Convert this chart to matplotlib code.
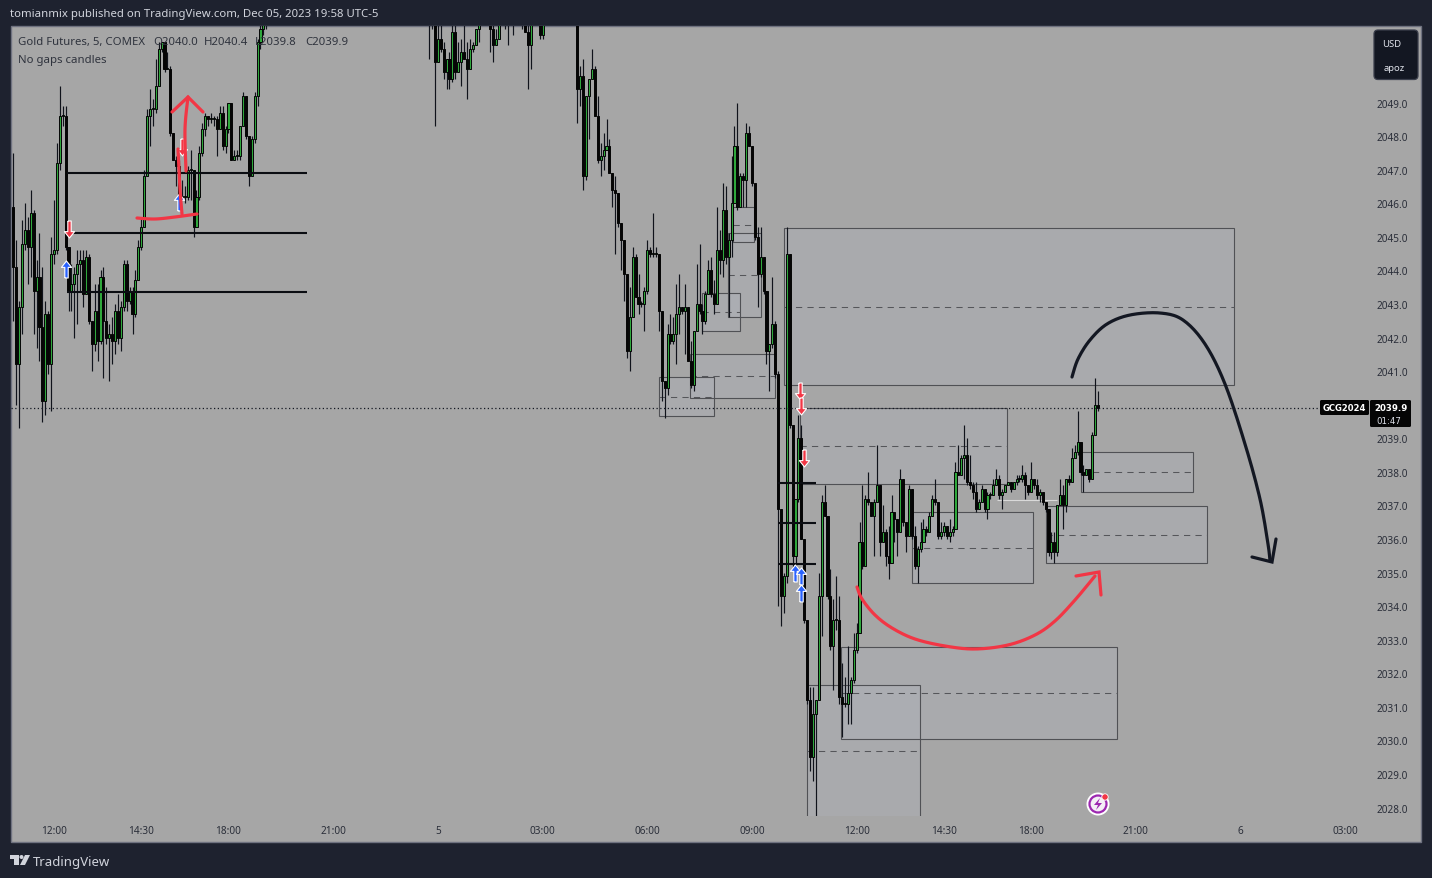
import numpy as np
import matplotlib
matplotlib.use('Agg')
import matplotlib.pyplot as plt
from matplotlib.patches import Rectangle, FancyBboxPatch, Circle, Polygon
from matplotlib.path import Path
from matplotlib.markers import MarkerStyle

plt.rcParams['font.family'] = ['Noto Sans', 'DejaVu Sans']

# Gold futures 5 min, bar 0 is 12:00 on Dec 4. Candles have no gaps, open = previous close
left_start = -14
left_open = 2045.9
left_close = [
    2044.1, 2041.2, 2042.9, 2044.8, 2045.2, 2044.7, 2045.7, 2043.4, 2043.8, 2042.3,
    2040.1, 2042.7, 2041.2, 2044.5, 2044.6, 2047.2, 2048.6, 2048.6, 2044.7, 2043.4,
    2043.6, 2043.9, 2044.2, 2044.3, 2043.3, 2044.4, 2042.5, 2041.8, 2042.8, 2041.9,
    2043.8, 2042.5, 2042.0, 2042.1, 2041.9, 2042.8, 2042.0, 2042.9, 2044.2, 2043.1,
    2043.4, 2042.7, 2043.7, 2044.7, 2045.3, 2046.8, 2048.6, 2048.8, 2048.8, 2049.5,
    2050.6, 2050.8, 2050.0, 2050.0, 2048.1, 2047.3, 2047.1, 2046.2, 2046.2, 2046.2,
    2047.0, 2047.0, 2045.3, 2046.2, 2047.5, 2048.2, 2048.6, 2048.5, 2048.5, 2048.5,
    2048.2, 2048.7, 2047.7, 2048.2, 2049.0, 2047.3, 2047.4, 2047.4, 2048.3, 2049.2,
    2048.0, 2046.8, 2047.9, 2049.2, 2050.8, 2051.2, 2051.5, 2052.0]
left_high = [
    2047.5, 2044.9, 2043.1, 2045.5, 2046.0, 2045.6, 2046.4, 2045.8, 2044.3, 2045.1,
    2044.1, 2043.1, 2042.8, 2045.0, 2046.1, 2047.8, 2049.5, 2048.9, 2048.9, 2044.7,
    2044.2, 2044.1, 2044.6, 2044.6, 2044.6, 2044.6, 2044.5, 2042.5, 2043.6, 2043.6,
    2044.0, 2044.1, 2043.5, 2042.4, 2042.6, 2043.0, 2043.3, 2043.1, 2044.3, 2044.3,
    2043.5, 2043.5, 2044.0, 2044.9, 2045.6, 2047.0, 2048.8, 2049.4, 2049.1, 2050.3,
    2050.8, 2050.8, 2050.8, 2050.5, 2050.1, 2048.1, 2047.4, 2047.3, 2046.7, 2046.5,
    2047.1, 2047.6, 2047.0, 2046.4, 2047.7, 2048.4, 2048.7, 2048.6, 2048.7, 2048.6,
    2048.6, 2048.9, 2048.9, 2048.3, 2049.0, 2049.0, 2047.6, 2047.6, 2048.3, 2049.3,
    2049.2, 2048.0, 2048.0, 2049.3, 2050.9, 2051.4, 2052.0, 2052.5]
left_low = [
    2042.5, 2040.0, 2039.3, 2042.1, 2044.6, 2043.6, 2043.8, 2042.1, 2041.7, 2041.3,
    2039.5, 2039.7, 2040.9, 2039.8, 2044.2, 2044.5, 2047.0, 2048.3, 2044.6, 2042.8,
    2042.8, 2042.0, 2042.4, 2043.4, 2042.9, 2043.3, 2042.4, 2041.0, 2041.6, 2041.3,
    2041.8, 2040.8, 2041.8, 2040.7, 2041.2, 2041.5, 2041.8, 2041.6, 2042.8, 2042.8,
    2043.0, 2042.1, 2042.6, 2043.7, 2044.6, 2045.3, 2046.8, 2047.7, 2048.3, 2048.7,
    2049.5, 2050.5, 2049.9, 2050.0, 2048.0, 2047.3, 2046.5, 2046.2, 2046.1, 2046.0,
    2046.1, 2046.1, 2045.0, 2045.3, 2046.1, 2047.4, 2048.0, 2048.3, 2048.4, 2048.3,
    2047.4, 2048.2, 2047.6, 2047.5, 2048.1, 2047.3, 2047.3, 2047.3, 2047.3, 2048.3,
    2047.9, 2046.5, 2046.8, 2047.8, 2048.9, 2050.6, 2051.0, 2051.2]

# early hours of Dec 5, mostly above the top of the chart
top_start = 129
top_open = 2052.0
top_close = [
    2052.0, 2052.2, 2050.2, 2050.9, 2050.6, 2049.9, 2050.3, 2049.7, 2051.1, 2049.9,
    2050.2, 2050.5, 2050.3, 2050.0, 2050.6, 2050.7, 2051.2, 2052.0, 2052.0, 2052.2,
    2052.0, 2051.2, 2050.7, 2050.9, 2052.0, 2052.1, 2052.0, 2052.2, 2052.0, 2052.1,
    2052.0, 2052.2, 2052.0, 2051.1, 2050.7, 2052.0, 2052.1, 2052.0, 2051.0, 2052.0]
top_high = [
    2053.0, 2053.0, 2053.0, 2052.0, 2052.0, 2050.8, 2050.3, 2050.5, 2051.3, 2051.3,
    2050.8, 2050.9, 2051.3, 2050.8, 2050.9, 2050.8, 2051.2, 2052.5, 2052.5, 2052.6,
    2052.5, 2052.5, 2052.0, 2051.2, 2052.5, 2052.6, 2052.5, 2052.6, 2052.5, 2052.6,
    2052.5, 2052.6, 2052.6, 2052.0, 2051.3, 2052.5, 2052.6, 2052.5, 2052.2, 2052.5]
top_low = [
    2050.3, 2051.2, 2048.3, 2050.2, 2050.5, 2049.7, 2049.4, 2049.4, 2049.6, 2049.7,
    2049.9, 2049.5, 2050.3, 2049.1, 2050.0, 2050.5, 2050.7, 2050.8, 2051.6, 2051.7,
    2051.6, 2050.5, 2050.2, 2050.7, 2050.9, 2051.6, 2051.2, 2050.7, 2051.6, 2051.0,
    2051.6, 2051.6, 2051.2, 2051.1, 2049.4, 2050.0, 2051.6, 2051.5, 2050.9, 2050.9]

# morning session of Dec 5 up to the last bar
main_start = 180
main_open = 2052.0
main_close = [
    2049.4, 2049.8, 2046.8, 2049.2, 2049.7, 2050.0, 2048.6, 2047.3, 2047.4, 2047.6,
    2047.7, 2046.9, 2046.4, 2046.3, 2045.4, 2044.9, 2043.9, 2041.6, 2042.6, 2044.4,
    2043.2, 2043.0, 2043.0, 2043.4, 2044.6, 2044.5, 2044.5, 2044.5, 2042.8, 2040.7,
    2040.5, 2042.1, 2041.9, 2042.1, 2042.7, 2042.9, 2042.8, 2042.9, 2041.3, 2040.6,
    2042.2, 2043.0, 2042.8, 2042.5, 2043.3, 2044.0, 2043.3, 2043.0, 2044.6, 2044.3,
    2045.8, 2044.4, 2044.9, 2046.0, 2047.7, 2045.9, 2046.8, 2046.7, 2048.1, 2047.7,
    2046.6, 2045.0, 2043.9, 2044.4, 2043.4, 2041.6, 2041.8, 2042.4, 2040.9, 2036.9,
    2034.3, 2034.9, 2044.5, 2039.4, 2035.5, 2037.2, 2039.0, 2036.0, 2033.6, 2031.2,
    2029.5, 2030.8, 2031.2, 2034.3, 2037.1, 2036.7, 2034.3, 2032.8, 2033.6, 2033.6,
    2031.3, 2031.1, 2031.1, 2031.4, 2031.8, 2032.7, 2033.2, 2035.9, 2035.2, 2037.2,
    2037.1, 2036.7, 2037.1, 2037.6, 2035.9, 2036.2, 2035.5, 2035.3, 2036.8, 2036.6,
    2036.2, 2037.8, 2036.5, 2036.1, 2037.5, 2036.1, 2035.2, 2035.7, 2035.9, 2036.3,
    2036.2, 2036.7, 2037.2, 2037.1, 2036.1, 2036.2, 2036.4, 2036.1, 2036.2, 2036.3,
    2038.0, 2037.9, 2038.4, 2038.5, 2037.7, 2037.6, 2037.4, 2036.9, 2037.1, 2037.5,
    2036.9, 2037.3, 2037.3, 2037.6, 2037.8, 2037.3, 2037.4, 2037.6, 2037.7, 2037.5,
    2037.7, 2037.8, 2037.8, 2037.9, 2037.6, 2037.4, 2037.8, 2037.6, 2037.3, 2037.4,
    2037.1, 2036.9, 2035.6, 2035.9, 2035.6, 2037.0, 2037.3, 2037.0, 2037.8, 2037.7,
    2038.4, 2038.6, 2038.9, 2038.0, 2037.9, 2038.1, 2037.8, 2039.1, 2040.0, 2039.9]
main_high = [
    2052.5, 2050.1, 2050.3, 2049.2, 2049.7, 2050.6, 2050.1, 2049.2, 2047.8, 2048.1,
    2048.5, 2047.9, 2046.9, 2046.8, 2046.3, 2045.4, 2044.9, 2043.9, 2043.5, 2044.7,
    2044.5, 2043.9, 2043.1, 2043.5, 2044.9, 2044.7, 2045.7, 2044.7, 2044.3, 2042.8,
    2040.7, 2042.4, 2042.7, 2042.6, 2043.6, 2043.9, 2042.9, 2043.6, 2042.9, 2041.9,
    2042.2, 2044.2, 2044.8, 2043.0, 2043.4, 2044.3, 2044.4, 2043.7, 2045.9, 2045.2,
    2046.6, 2046.5, 2045.1, 2047.4, 2048.3, 2049.0, 2046.9, 2046.9, 2048.4, 2048.3,
    2047.7, 2046.6, 2045.3, 2045.3, 2044.4, 2043.4, 2041.8, 2043.8, 2042.5, 2041.0,
    2036.9, 2035.0, 2045.3, 2044.5, 2039.4, 2037.2, 2039.7, 2039.4, 2036.0, 2033.6,
    2031.6, 2031.6, 2031.2, 2035.0, 2037.3, 2037.6, 2036.7, 2035.1, 2034.2, 2034.9,
    2034.3, 2032.3, 2031.9, 2032.8, 2031.9, 2033.2, 2033.5, 2036.5, 2037.6, 2037.3,
    2038.0, 2037.1, 2037.2, 2038.8, 2037.6, 2037.0, 2036.3, 2036.4, 2037.3, 2036.8,
    2036.6, 2038.1, 2037.8, 2036.5, 2037.6, 2037.5, 2036.4, 2035.8, 2036.5, 2036.6,
    2036.4, 2036.8, 2037.3, 2037.8, 2037.1, 2036.5, 2036.5, 2036.4, 2036.6, 2036.4,
    2038.3, 2038.8, 2038.5, 2039.4, 2039.0, 2038.5, 2037.7, 2037.7, 2037.2, 2037.6,
    2037.5, 2037.4, 2037.4, 2037.8, 2038.1, 2037.9, 2037.5, 2037.6, 2037.7, 2037.7,
    2037.7, 2037.9, 2037.9, 2038.2, 2038.0, 2037.6, 2038.3, 2037.8, 2037.8, 2037.5,
    2037.4, 2037.1, 2036.9, 2036.2, 2036.2, 2037.0, 2037.8, 2037.6, 2037.8, 2037.9,
    2038.7, 2038.8, 2039.8, 2038.9, 2038.2, 2038.1, 2038.1, 2039.2, 2040.8, 2040.4]
main_low = [
    2048.4, 2048.9, 2046.4, 2046.7, 2047.9, 2049.7, 2048.6, 2047.2, 2046.8, 2047.0,
    2047.6, 2046.9, 2045.9, 2044.5, 2045.3, 2044.0, 2043.1, 2041.4, 2041.0, 2042.6,
    2043.2, 2042.7, 2042.9, 2042.2, 2043.3, 2044.4, 2044.4, 2044.4, 2042.2, 2040.1,
    2039.6, 2040.3, 2041.8, 2041.8, 2041.2, 2042.1, 2042.7, 2041.5, 2041.3, 2040.5,
    2040.4, 2042.2, 2042.7, 2042.1, 2042.4, 2043.3, 2043.2, 2042.7, 2043.0, 2043.9,
    2043.8, 2044.2, 2042.6, 2044.4, 2046.0, 2045.8, 2045.9, 2045.9, 2045.9, 2047.7,
    2046.5, 2044.9, 2042.9, 2043.8, 2043.3, 2041.2, 2040.4, 2041.7, 2040.8, 2034.0,
    2033.4, 2033.8, 2034.7, 2039.3, 2035.1, 2035.1, 2037.1, 2036.0, 2033.5, 2031.1,
    2029.1, 2028.8, 2027.7, 2031.2, 2033.1, 2036.7, 2034.2, 2032.7, 2031.5, 2033.3,
    2031.1, 2030.1, 2031.0, 2030.5, 2030.5, 2031.7, 2032.6, 2033.2, 2035.1, 2035.2,
    2037.0, 2036.7, 2035.5, 2037.1, 2035.5, 2035.9, 2035.2, 2034.8, 2035.3, 2035.9,
    2035.5, 2036.2, 2036.4, 2035.6, 2036.1, 2036.0, 2035.1, 2034.7, 2035.6, 2035.9,
    2036.1, 2036.2, 2036.7, 2037.0, 2036.0, 2036.0, 2036.1, 2036.0, 2035.9, 2036.1,
    2036.3, 2037.9, 2037.9, 2037.8, 2037.6, 2037.5, 2037.2, 2036.8, 2036.9, 2037.1,
    2036.8, 2036.6, 2037.2, 2037.3, 2037.6, 2037.2, 2036.9, 2037.4, 2037.6, 2037.4,
    2037.5, 2037.6, 2037.7, 2037.7, 2037.2, 2037.3, 2037.4, 2037.5, 2037.2, 2037.1,
    2037.0, 2036.8, 2035.5, 2035.4, 2035.3, 2035.5, 2037.0, 2036.3, 2036.8, 2037.6,
    2037.7, 2038.4, 2038.5, 2037.9, 2037.4, 2037.9, 2037.7, 2037.8, 2039.1, 2039.8]

# rectangles from the drawing tools: first bar, last bar, top price, bottom price
box_left = [251, 256.5, 295, 353.2, 341.1, 270.6, 259, 208, 218.7, 222.8, 231.8, 233.5]
box_right = [405.8, 327.7, 336.7, 391.7, 396.5, 365.5, 297.8, 227, 247.9, 235.9, 243, 240.7]
box_top = [2045.26, 2039.9, 2036.8, 2038.58, 2036.98, 2032.78, 2031.64, 2040.82, 2041.5, 2043.32, 2045.11, 2045.88]
box_bottom = [2040.58, 2037.63, 2034.68, 2037.39, 2035.28, 2030.03, 2027.72, 2039.66, 2040.19, 2042.19, 2042.61, 2044.84]

# horizontal levels
level_prices = [2046.9, 2045.1, 2043.35, 2037.66, 2036.47, 2035.25]
level_start = [4.5, 5.5, 4.5, 249, 249, 249]
level_end = [87, 87, 87, 262, 262, 262]

# trade arrows
sell_bars = [5.2, 44, 256.5, 257, 257.8]
sell_prices = [2045.23, 2047.67, 2040.4, 2039.95, 2038.4]
buy_bars = [4.1, 43, 254.8, 257, 257]
buy_prices = [2044.04, 2046.03, 2035.0, 2034.9, 2034.4]

last_price = 2039.9

time_ticks = [0, 30, 60, 96, 132, 168, 204, 240, 276, 306, 336, 372, 408, 444]
time_labels = ['12:00', '14:30', '18:00', '21:00', '5', '03:00', '06:00', '09:00',
               '12:00', '14:30', '18:00', '21:00', '6', '03:00']
# the 2040 label sits behind the last price tag
price_ticks = [p for p in range(2028, 2050) if p != 2040]

# brush strokes on the picture, in screen pixels
black_curve = [(1072, 378), (1078, 360), (1090, 341), (1107, 325), (1130, 316), (1160, 314), (1183, 321),
               (1205, 345), (1225, 385), (1245, 445), (1260, 500), (1268, 545), (1270, 562)]
black_head = [(1252, 558), (1272, 563), (1276, 540)]
red_curve = [(857, 588), (862, 600), (875, 616), (892, 629), (915, 640), (945, 647), (975, 650),
             (1008, 646), (1035, 636), (1055, 622), (1075, 601), (1095, 577)]
red_head = [(1076, 577), (1099, 573), (1101, 596)]
small_up = [(186, 172), (185, 130), (188, 98)]
small_up2 = [(182, 215), (180, 190), (178, 150)]
small_head = [(172, 113), (188, 98), (203, 113)]
small_base = [(137, 219), (155, 220), (175, 218), (197, 215)]


def smooth(points, n=12):
    # Catmull-Rom through the hand picked points
    p = np.array([points[0]] + list(points) + [points[-1]], dtype=float)
    out = []
    for k in range(1, len(p) - 2):
        for t in np.linspace(0, 1, n, endpoint=False):
            out.append(0.5 * (2 * p[k] + (p[k + 1] - p[k - 1]) * t
                              + (2 * p[k - 1] - 5 * p[k] + 4 * p[k + 1] - p[k + 2]) * t ** 2
                              + (3 * p[k] - p[k - 1] - 3 * p[k + 1] + p[k + 2]) * t ** 3))
    out.append(p[-2])
    return np.array(out)


def draw_candles(ax, start, first_open, close, high, low):
    close = np.array(close)
    bars = start + np.arange(len(close))
    opens = np.concatenate([[first_open], close[:-1]])
    ax.vlines(bars, low, high, color='#10131b', lw=0.85, zorder=3)
    up = close >= opens
    ax.bar(bars[up], np.maximum(close[up] - opens[up], 0.03), bottom=opens[up], width=0.72,
           color='#2fa83c', edgecolor='#050505', lw=0.7, zorder=4)
    ax.bar(bars[~up], opens[~up] - close[~up], bottom=close[~up], width=0.72,
           color='#050505', edgecolor='#050505', lw=0.7, zorder=4)


fig = plt.figure(figsize=(14.32, 8.79), dpi=100, facecolor='#1e222f')
# pane ends at y=817, the time scale below has the same grey
fig.add_artist(Rectangle((11 / 1432, 36 / 879), 1410 / 1432, 816 / 879, transform=fig.transFigure,
                         facecolor='#a6a6a6', edgecolor='#6f7280', lw=1.0, zorder=-1))
ax = fig.add_axes([11 / 1432, 62 / 879, 1410 / 1432, 790 / 879], facecolor='none')
ax.set_xlim(-14.787, 470.08)
ax.set_ylim(2027.75, 2051.28)
for s in ax.spines.values():
    s.set_visible(False)

ax.set_xticks(time_ticks)
ax.set_xticklabels(time_labels)
ax.yaxis.tick_right()
ax.set_yticks(price_ticks)
ax.set_yticklabels(['%.1f' % p for p in price_ticks])
ax.tick_params(axis='x', length=0, pad=6.4, labelsize=7.2, labelcolor='#2a2e39')
ax.tick_params(axis='y', length=0, pad=-32, labelsize=7.2, labelcolor='#2a2e39')

for x0, x1, y1, y0 in zip(box_left, box_right, box_top, box_bottom):
    ax.add_patch(Rectangle((x0, y0), x1 - x0, y1 - y0, facecolor='#b2b5be', alpha=0.3, lw=0, zorder=1))
    ax.add_patch(Rectangle((x0, y0), x1 - x0, y1 - y0, fill=False, edgecolor='#505155', lw=0.8, zorder=2))
    ax.plot([x0, x1], [(y0 + y1) / 2] * 2, color='#55565a', lw=0.75, dashes=(6, 5), zorder=2)

draw_candles(ax, left_start, left_open, left_close, left_high, left_low)
draw_candles(ax, top_start, top_open, top_close, top_high, top_low)
draw_candles(ax, main_start, main_open, main_close, main_high, main_low)

ax.hlines(level_prices, level_start, level_end, color='#0b0d12', lw=1.5, zorder=5)
ax.hlines(2037.15, 324.3, 345, color='#d9d9d9', lw=0.8, zorder=2.5)
ax.hlines(last_price, -14.787, 436, color='#131722', lw=0.9, linestyles=(0, (1, 2)), zorder=5)

# arrow markers with white outline
down_arrow = Path([(-0.2, 1), (0.2, 1), (0.2, -0.25), (0.6, -0.25), (0, -1), (-0.6, -0.25), (-0.2, -0.25), (-0.2, 1)])
up_arrow = Path([(-0.2, -1), (0.2, -1), (0.2, 0.25), (0.6, 0.25), (0, 1), (-0.6, 0.25), (-0.2, 0.25), (-0.2, -1)])
ax.scatter(sell_bars, sell_prices, marker=MarkerStyle(down_arrow), s=150, color='#f23645',
           edgecolor='white', lw=0.8, zorder=7)
ax.scatter(buy_bars, buy_prices, marker=MarkerStyle(up_arrow), s=150, color='#2962ff',
           edgecolor='white', lw=0.8, zorder=7)

# overlay in screen pixels for drawings and the TradingView frame items
ov = fig.add_axes([0, 0, 1, 1], facecolor='none')
ov.set_xlim(0, 1432)
ov.set_ylim(879, 0)
ov.axis('off')

for pts, col in [(black_curve, '#131722'), (red_curve, '#f23645'), (small_up, '#f23645'),
                 (small_up2, '#f23645'), (small_base, '#f23645')]:
    line = smooth(pts)
    ov.plot(line[:, 0], line[:, 1], color=col, lw=2.3, solid_capstyle='round', solid_joinstyle='round', zorder=6)
for pts, col in [(black_head, '#131722'), (red_head, '#f23645'), (small_head, '#f23645')]:
    ov.plot([p[0] for p in pts], [p[1] for p in pts], color=col, lw=2.3, solid_capstyle='round',
            solid_joinstyle='miter', zorder=6)

ov.text(10, 15, 'tomianmix published on TradingView.com, Dec 05, 2023 19:58 UTC-5', color='#d1d4dc',
        fontsize=8.2, va='center', ha='left')
ov.text(18, 42.5, 'Gold Futures, 5, COMEX', color='#2f333d', fontsize=8.2, va='center', ha='left')
for x, s in zip([153, 204, 255, 305], ['O2040.0', 'H2040.4', 'L2039.8', 'C2039.9']):
    ov.text(x, 42.5, s, color='#2f333d', fontsize=8.2, va='center', ha='left')
ov.text(18, 60.5, 'No gaps candles', color='#2f333d', fontsize=8.2, va='center', ha='left')

ov.add_patch(FancyBboxPatch((1374, 31), 44, 49.5, boxstyle='round,pad=0,rounding_size=4',
                            facecolor='#131722', edgecolor='#3a3e4b', lw=0.9))
ov.text(1392, 44.5, 'USD', color='#e0e3eb', fontsize=6.8, va='center', ha='center')
ov.text(1394, 68.5, 'apoz', color='#e0e3eb', fontsize=6.8, va='center', ha='center')

ov.add_patch(FancyBboxPatch((1320, 401), 49, 15, boxstyle='round,pad=0,rounding_size=1.5', facecolor='#050505', lw=0))
ov.text(1344.5, 409, 'GCG2024', color='white', family='DejaVu Sans', fontsize=6.1, fontweight='bold',
        va='center', ha='center')
ov.add_patch(FancyBboxPatch((1370, 401), 41, 27, boxstyle='round,pad=0,rounding_size=1.5', facecolor='#050505', lw=0))
ov.text(1391, 409, '%.1f' % last_price, color='white', family='DejaVu Sans', fontsize=6.2, fontweight='bold',
        va='center', ha='center')
ov.text(1389, 421.5, '01:47', color='#e0e3eb', family='DejaVu Sans', fontsize=6.2, va='center', ha='center')

# TradingView logo
ov.add_patch(Polygon([(10, 856), (19, 856), (19, 866), (14, 866), (14, 860), (10, 860)], facecolor='#d1d4dc', lw=0))
ov.add_patch(Circle((21.5, 858), 2, facecolor='#d1d4dc', lw=0))
ov.add_patch(Polygon([(25, 856), (30, 856), (25, 866), (20, 866)], facecolor='#d1d4dc', lw=0))
ov.text(33, 862.5, 'TradingView', color='#d1d4dc', fontsize=9.5, va='center', ha='left')

# lightning badge
ov.add_patch(Circle((1098, 805), 11.5, facecolor='white', lw=0, zorder=6))
ov.add_patch(Circle((1098, 805), 8.5, facecolor='#f4eef6', edgecolor='#9c27b0', lw=1.6, zorder=7))
ov.add_patch(Polygon([(1100, 799), (1094, 806), (1098, 806), (1096, 811), (1102, 804), (1098, 804)],
                     facecolor='#9c27b0', lw=0, zorder=8))
ov.add_patch(Circle((1105, 798), 3.2, facecolor='#f23645', edgecolor='white', lw=0.6, zorder=8))

fig.savefig('out.png', dpi=100, facecolor=fig.get_facecolor())
